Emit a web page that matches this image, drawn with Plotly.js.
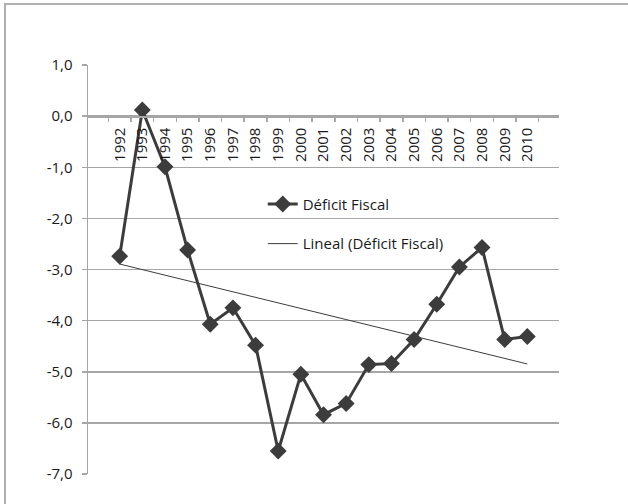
<!DOCTYPE html>
<html>
<head>
<meta charset="utf-8">
<script src="https://cdn.plot.ly/plotly-3.0.1.min.js"></script>
<style>
  html, body { margin: 0; padding: 0; background: #fff; }
  #frame { position: absolute; left: 4px; top: 3px; width: 640px; height: 520px;
           border-left: 2px solid #b0b0b0; border-top: 2px solid #b0b0b0; }
  #chart { position: absolute; left: 0; top: 0; width: 628px; height: 504px; }
</style>
</head>
<body>
<div id="frame"></div>
<div id="chart"></div>
<script>
const years = ['1992','1993','1994','1995','1996','1997','1998','1999','2000','2001',
               '2002','2003','2004','2005','2006','2007','2008','2009','2010'];
const deficitFiscal = [-2.74, 0.12, -0.99, -2.62, -4.07, -3.75, -4.48, -6.55, -5.05, -5.84,
                       -5.62, -4.86, -4.84, -4.37, -3.68, -2.95, -2.57, -4.37, -4.31];
const yTickVals = [1, 0, -1, -2, -3, -4, -5, -6, -7];
const yTickText = ['1,0', '0,0', '-1,0', '-2,0', '-3,0', '-4,0', '-5,0', '-6,0', '-7,0'];
const seriesName = 'Déficit Fiscal';
const trendName = 'Lineal (Déficit Fiscal)';
const yMin = -7, yMax = 1;

// Linear trend (least squares) of the series, as Excel's "Lineal" trendline
const n = deficitFiscal.length;
const idx = deficitFiscal.map((_, i) => i + 1);
const mx = idx.reduce((a, b) => a + b, 0) / n;
const my = deficitFiscal.reduce((a, b) => a + b, 0) / n;
let sxy = 0, sxx = 0;
for (let i = 0; i < n; i++) { sxy += (idx[i] - mx) * (deficitFiscal[i] - my); sxx += (idx[i] - mx) ** 2; }
const slope = sxy / sxx, intercept = my - slope * mx;
const trend = idx.map(x => intercept + slope * x);

const textColor = '#1a1a1a';
const fam = 'Open Sans, Lato, sans-serif';
const font = { family: fam, size: 15, color: textColor };

const traces = [
  {
    x: years, y: deficitFiscal, name: seriesName, type: 'scatter', mode: 'lines+markers',
    line: { color: '#3c3c3c', width: 3 },
    marker: { symbol: 'diamond', size: 13, color: '#3c3c3c' },
    legend: 'legend'
  },
  {
    x: years, y: trend, name: trendName, type: 'scatter', mode: 'lines',
    line: { color: '#3c3c3c', width: 1 },
    legend: 'legend2'
  }
];

const layout = {
  width: 628, height: 504,
  margin: { l: 88, r: 69, t: 65, b: 30 },
  paper_bgcolor: 'rgba(0,0,0,0)', plot_bgcolor: 'rgba(0,0,0,0)',
  font: font,
  showlegend: true,
  xaxis: {
    type: 'category',
    anchor: 'free',
    position: (0 - yMin) / (yMax - yMin),
    showline: true, linecolor: '#a6a6a6', linewidth: 1.5,
    ticks: 'outside', tickson: 'boundaries', ticklen: 4, tickcolor: '#a6a6a6', tickwidth: 1.5,
    tickangle: -90,
    ticklabelstandoff: 4,
    showgrid: false,
    tickfont: { family: fam, size: 15, color: textColor },
    fixedrange: true
  },
  yaxis: {
    range: [yMin, yMax],
    tickmode: 'array', tickvals: yTickVals, ticktext: yTickText,
    showline: true, linecolor: '#a6a6a6', linewidth: 1.5,
    ticks: 'outside', ticklen: 5, tickcolor: '#a6a6a6', tickwidth: 1.5,
    ticklabelstandoff: 6,
    showgrid: true, gridcolor: '#a6a6a6', gridwidth: 1.5,
    zeroline: false,
    tickfont: { family: fam, size: 15, color: textColor },
    fixedrange: true
  },
  legend: {
    x: 0.371, y: 0.70, xanchor: 'left', yanchor: 'top',
    bgcolor: 'rgba(0,0,0,0)', font: font, itemwidth: 30
  },
  legend2: {
    x: 0.371, y: 0.603, xanchor: 'left', yanchor: 'top',
    bgcolor: 'rgba(0,0,0,0)', font: font, itemwidth: 30
  }
};

Plotly.newPlot('chart', traces, layout, { displayModeBar: false, staticPlot: true });
</script>
</body>
</html>
